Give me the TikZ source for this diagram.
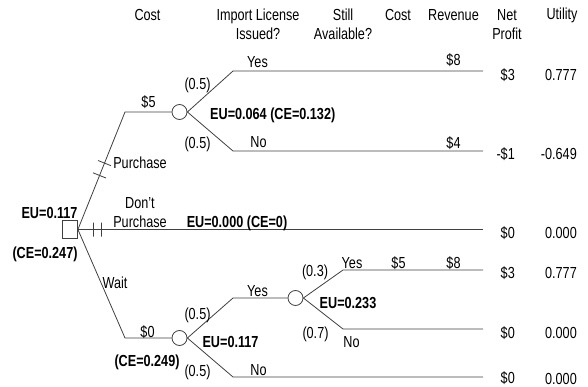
\documentclass[tikz,border=0pt]{standalone}
\usepackage{fontspec}
\setmainfont{Liberation Sans}[FakeStretch=0.79]
\begin{document}
\begin{tikzpicture}[x=1pt,y=-1pt,
  br/.style={draw=black!75, line width=0.8pt},
  lbl/.style={inner sep=0pt, font=\fontsize{16}{19}\selectfont},
  eu/.style={inner sep=0pt, font=\fontsize{16}{19}\selectfont\bfseries},
  hdr/.style={lbl, align=center},
  dec/.style={draw=black!75, line width=0.8pt, minimum width=15pt, minimum height=18pt, inner sep=0pt},
  chance/.style={draw=black!75, line width=0.8pt, circle, minimum size=15pt, inner sep=0pt},
  hashmk/.style={sloped, draw=black!75, line width=0.8pt, minimum width=0pt, minimum height=14pt, inner sep=0pt}]
\useasboundingbox (0,0) rectangle (588,387);

% headers
\node[hdr] (h1) at (147.5,15) {Cost};
\node[hdr] (h2) at (258,24.5) {Import License\\Issued?};
\node[hdr] (h3) at (343,24.5) {Still\\Available?};
\node[hdr] (h4) at (398,15) {Cost};
\node[hdr] (h5) at (453.5,15) {Revenue};
\node[hdr] (h6) at (507,24.5) {Net\\Profit};
\node[hdr] (h7) at (562,15) {Utility};

% tree nodes
\node[dec] (D) at (70,229.5) {};
\node[chance] (C1) at (179.5,112) {};
\node[chance] (C2) at (179.5,338) {};
\node[chance] (C3) at (295.5,298) {};

\coordinate (p1) at (125,112);
\coordinate (w1) at (125,338);
\coordinate (a1) at (233,71);  \coordinate (a2) at (483,71);
\coordinate (b1) at (233,151); \coordinate (b2) at (483,151);
\coordinate (n2) at (483,229.5);
\coordinate (c1) at (233,298);
\coordinate (e1) at (233,377); \coordinate (e2) at (483,377);
\coordinate (f1) at (343,270); \coordinate (f2) at (483,270);
\coordinate (g1) at (343,329); \coordinate (g2) at (483,329);

% branches
\draw[br] (D.east) -- node[hashmk,pos=0.46] (hm1) {} node[hashmk,pos=0.565] (hm2) {} (p1) -- (C1.west);
\draw[br] (D.east) -- node[hashmk,pos=0.038] (hm3) {} node[hashmk,pos=0.058] (hm4) {} (n2);
\draw[br] (D.east) -- (w1) -- (C2.west);
\draw[br] (C1.east) -- (a1) -- (a2);
\draw[br] (C1.east) -- (b1) -- (b2);
\draw[br] (C2.east) -- (c1) -- (C3.west);
\draw[br] (C2.east) -- (e1) -- (e2);
\draw[br] (C3.east) -- (f1) -- (f2);
\draw[br] (C3.east) -- (g1) -- (g2);

% labels upper part
\node[lbl,anchor=base] (l1) at (148.5,108) {\$5};
\node[lbl] (l2) at (197.5,85) {(0.5)};
\node[lbl,anchor=base] (l3) at (257.5,68) {Yes};
\node[lbl,anchor=base] (l4) at (453.5,66) {\$8};
\node[eu,anchor=west] (l5) at (210,115) {EU=0.064 (CE=0.132)};
\node[lbl] (l6) at (197.5,144) {(0.5)};
\node[lbl,anchor=base] (l7) at (258.5,148) {No};
\node[lbl,anchor=base] (l8) at (453.5,149) {\$4};
\node[lbl] (l9) at (140,162.5) {Purchase};

% middle
\node[eu] (l10) at (49.5,213) {EU=0.117};
\node[hdr] (l11) at (140,212.5) {Don't\\Purchase};
\node[eu] (l12) at (237,223.5) {EU=0.000 (CE=0)};
\node[eu] (l13) at (45,254) {(CE=0.247)};
\node[lbl] (l14) at (115,282.5) {Wait};

% lower part
\node[lbl,anchor=base] (l15) at (147.5,337) {\$0};
\node[lbl] (l16) at (197.5,315) {(0.5)};
\node[lbl,anchor=base] (l17) at (257.5,296) {Yes};
\node[eu] (l18) at (230.5,342) {EU=0.117};
\node[eu] (l19) at (147,362) {(CE=0.249)};
\node[lbl] (l20) at (197.5,372) {(0.5)};
\node[lbl,anchor=base] (l21) at (258.5,375) {No};
\node[lbl] (l22) at (315,272) {(0.3)};
\node[lbl,anchor=base] (l23) at (352,268) {Yes};
\node[lbl,anchor=base] (l24) at (398.5,268) {\$5};
\node[lbl,anchor=base] (l25) at (453.5,268) {\$8};
\node[eu] (l26) at (348,303) {EU=0.233};
\node[lbl] (l27) at (315.5,334) {(0.7)};
\node[lbl] (l28) at (351.5,342) {No};

% right columns
\node[lbl,anchor=east] (r1) at (515,75) {\$3};
\node[lbl,anchor=east] (u1) at (577,75) {0.777};
\node[lbl,anchor=east] (r2) at (515,154) {-\$1};
\node[lbl,anchor=east] (u2) at (577,154) {-0.649};
\node[lbl,anchor=east] (r3) at (515,233) {\$0};
\node[lbl,anchor=east] (u3) at (577,233) {0.000};
\node[lbl,anchor=east] (r4) at (515,273) {\$3};
\node[lbl,anchor=east] (u4) at (577,273) {0.777};
\node[lbl,anchor=east] (r5) at (515,333) {\$0};
\node[lbl,anchor=east] (u5) at (577,333) {0.000};
\node[lbl,anchor=east] (r6) at (515,378.5) {\$0};
\node[lbl,anchor=east] (u6) at (577,378.5) {0.000};
\end{tikzpicture}
\end{document}
